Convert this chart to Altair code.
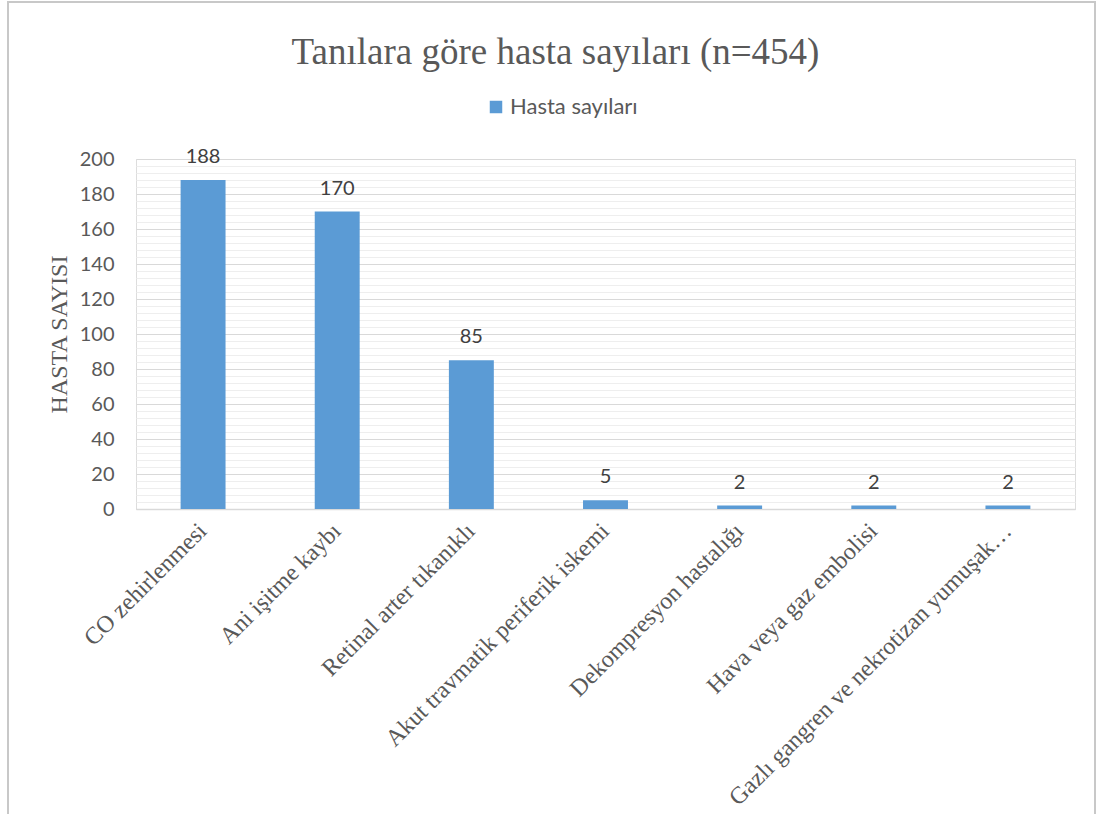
import altair as alt
import pandas as pd

categories = [
    "CO zehirlenmesi",
    "Ani işitme kaybı",
    "Retinal arter tıkanıklı",
    "Akut travmatik periferik iskemi",
    "Dekompresyon hastalığı",
    "Hava veya gaz embolisi",
    "Gazlı gangren ve nekrotizan yumuşak…",
]
values = [188, 170, 85, 5, 2, 2, 2]
series_name = "Hasta sayıları"
y_ticks = list(range(0, 201, 4))

df = pd.DataFrame({"tani": categories, "sayi": values, "seri": [series_name] * len(values)})

SERIF = "Liberation Serif"
SANS = "Lato"
GRAY = "#595959"

x_enc = alt.X(
    "tani:N",
    sort=categories,
    title=None,
    scale=alt.Scale(paddingInner=0.665, paddingOuter=0.3325),
    axis=alt.Axis(
        labelAngle=-45,
        labelAlign="right",
        labelBaseline="middle",
        labelFont=SERIF,
        labelFontSize=24,
        labelColor=GRAY,
        labelPadding=18,
        labelOffset=0,
        labelLimit=600,
        labelOverlap=False,
        ticks=False,
        domainColor="#d9d9d9",
        domainWidth=1.5,
        grid=False,
    ),
)

y_enc = alt.Y(
    "sayi:Q",
    title="HASTA SAYISI",
    scale=alt.Scale(domain=[0, 200], nice=False),
    axis=alt.Axis(
        values=y_ticks,
        tickCount=len(y_ticks),
        labelExpr="datum.value % 20 == 0 ? datum.label : ''",
        labelOverlap=False,
        labelFont=SANS,
        labelFontSize=20,
        labelColor=GRAY,
        labelPadding=22,
        ticks=False,
        domain=False,
        grid=True,
        gridColor={"condition": {"test": "datum.value % 20 == 0", "value": "#d9d9d9"}, "value": "#eeeeee"},
        gridWidth=1,
        titleFont=SERIF,
        titleFontSize=24,
        titleFontWeight="normal",
        titleColor=GRAY,
        titlePadding=8,
    ),
)

bars = alt.Chart(df).mark_bar().encode(
    x=x_enc,
    y=y_enc,
    color=alt.Color(
        "seri:N",
        scale=alt.Scale(range=["#5b9bd5"]),
        legend=alt.Legend(
            orient="none",
            legendX=349,
            legendY=-63,
            title=None,
            symbolType="square",
            symbolSize=156,
            symbolStrokeWidth=0,
            labelOffset=3,
            labelFont=SANS,
            labelFontSize=22,
            labelColor=GRAY,
        ),
    ),
)

labels = alt.Chart(df).mark_text(
    font=SANS, fontSize=20, color="#404040", dy=-17, baseline="alphabetic"
).encode(
    x=alt.X("tani:N", sort=categories),
    y="sayi:Q",
    text="sayi:Q",
)

frame = alt.Chart(df).mark_rect(
    fill=None, stroke="#c8c8c8", strokeWidth=2
).encode(
    x=alt.value(-128), x2=alt.value(959), y=alt.value(-157), y2=alt.value(700)
)

chart = alt.layer(bars, labels, frame).properties(
    width=939,
    height=350,
    title=alt.Title(
        "Tanılara göre hasta sayıları (n=454)",
        font=SERIF,
        fontSize=37,
        fontWeight="normal",
        color=GRAY,
        anchor="middle",
        dx=-50,
        dy=75,
    ),
    autosize=alt.AutoSizeParams(type="none"),
    padding={"left": 136, "top": 159, "right": 30, "bottom": 305},
).configure_view(stroke=None).configure(background="white")

chart.save("out.html", embed_options={"renderer": "svg", "actions": False})
